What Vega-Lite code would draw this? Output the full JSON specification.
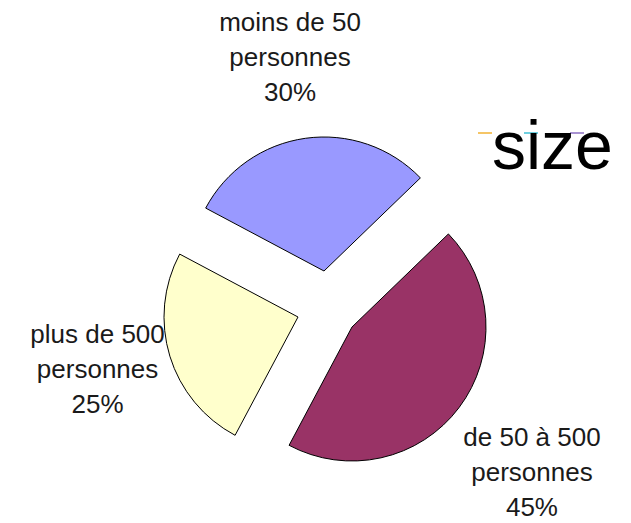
{
  "$schema": "https://vega.github.io/schema/vega-lite/v6.json",
  "width": 631,
  "height": 523,
  "padding": 0,
  "autosize": {"type": "none"},
  "background": "white",
  "config": {"view": {"stroke": null}},
  "data": {
    "values": [
      {"categorie": "de 50 à 500 personnes", "etiquette": "de 50 à 500\npersonnes\n45%", "part": 45, "ordre": 1},
      {"categorie": "plus de 500 personnes", "etiquette": "plus de 500\npersonnes\n25%", "part": 25, "ordre": 2},
      {"categorie": "moins de 50 personnes", "etiquette": "moins de 50\npersonnes\n30%", "part": 30, "ordre": 3}
    ]
  },
  "encoding": {
    "theta": {"field": "part", "type": "quantitative", "stack": true, "scale": {"range": [0.803, 7.086]}},
    "order": {"field": "ordre", "type": "quantitative"}
  },
  "layer": [
    {
      "mark": {"type": "arc", "outerRadius": 134, "stroke": "black", "strokeWidth": 1, "xOffset": 36.5, "yOffset": 65.5},
      "encoding": {
        "color": {
          "field": "categorie", "type": "nominal",
          "scale": {"domain": ["de 50 à 500 personnes", "plus de 500 personnes", "moins de 50 personnes"], "range": ["#993366", "#FFFFCC", "#9999FF"]},
          "legend": null
        },
        "opacity": {"condition": {"test": "datum.ordre === 1", "value": 1}, "value": 0}
      }
    },
    {
      "mark": {"type": "arc", "outerRadius": 134, "stroke": "black", "strokeWidth": 1, "xOffset": -17.5, "yOffset": 55.5},
      "encoding": {
        "color": {"field": "categorie", "type": "nominal", "legend": null},
        "opacity": {"condition": {"test": "datum.ordre === 2", "value": 1}, "value": 0}
      }
    },
    {
      "mark": {"type": "arc", "outerRadius": 134, "stroke": "black", "strokeWidth": 1, "xOffset": 8.5, "yOffset": 9.5},
      "encoding": {
        "color": {"field": "categorie", "type": "nominal", "legend": null},
        "opacity": {"condition": {"test": "datum.ordre === 3", "value": 1}, "value": 0}
      }
    },
    {
      "mark": {"type": "arc", "outerRadius": 0, "fill": "transparent", "strokeWidth": 0},
      "encoding": {
        "stroke": {
          "field": "ordre", "type": "nominal",
          "scale": {"domain": [1, 2, 3], "range": ["#F2B233", "#3FC1D6", "#8C6FC4"]},
          "legend": {
            "orient": "none", "legendX": 492, "legendY": 125, "direction": "horizontal",
            "title": "size", "titleFontSize": 68, "titleFont": "Liberation Sans", "titleFontWeight": "normal", "titleColor": "black",
            "titleOrient": "bottom", "titlePadding": -23,
            "symbolType": "M-1,0L1,0", "symbolSize": 196, "symbolStrokeWidth": 1.5, "symbolOffset": -15,
            "labelExpr": "''", "labelOffset": 0, "columnPadding": 26
          }
        }
      }
    },
    {
      "mark": {"type": "text", "radius": 232, "xOffset": 31.2, "yOffset": 36.9, "fontSize": 26, "lineHeight": 35, "lineBreak": "\n", "font": "Liberation Sans", "fill": "#1a1a1a", "align": "center", "baseline": "middle"},
      "encoding": {
        "text": {"field": "etiquette", "type": "nominal"},
        "opacity": {"condition": {"test": "datum.ordre === 1", "value": 1}, "value": 0}
      }
    },
    {
      "mark": {"type": "text", "radius": 207, "xOffset": -20, "yOffset": 13, "fontSize": 26, "lineHeight": 35, "lineBreak": "\n", "font": "Liberation Sans", "fill": "#1a1a1a", "align": "center", "baseline": "middle"},
      "encoding": {
        "text": {"field": "etiquette", "type": "nominal"},
        "opacity": {"condition": {"test": "datum.ordre === 2", "value": 1}, "value": 0}
      }
    },
    {
      "mark": {"type": "text", "radius": 216, "xOffset": 4.6, "yOffset": -24.6, "fontSize": 26, "lineHeight": 35, "lineBreak": "\n", "font": "Liberation Sans", "fill": "#1a1a1a", "align": "center", "baseline": "middle"},
      "encoding": {
        "text": {"field": "etiquette", "type": "nominal"},
        "opacity": {"condition": {"test": "datum.ordre === 3", "value": 1}, "value": 0}
      }
    }
  ]
}
